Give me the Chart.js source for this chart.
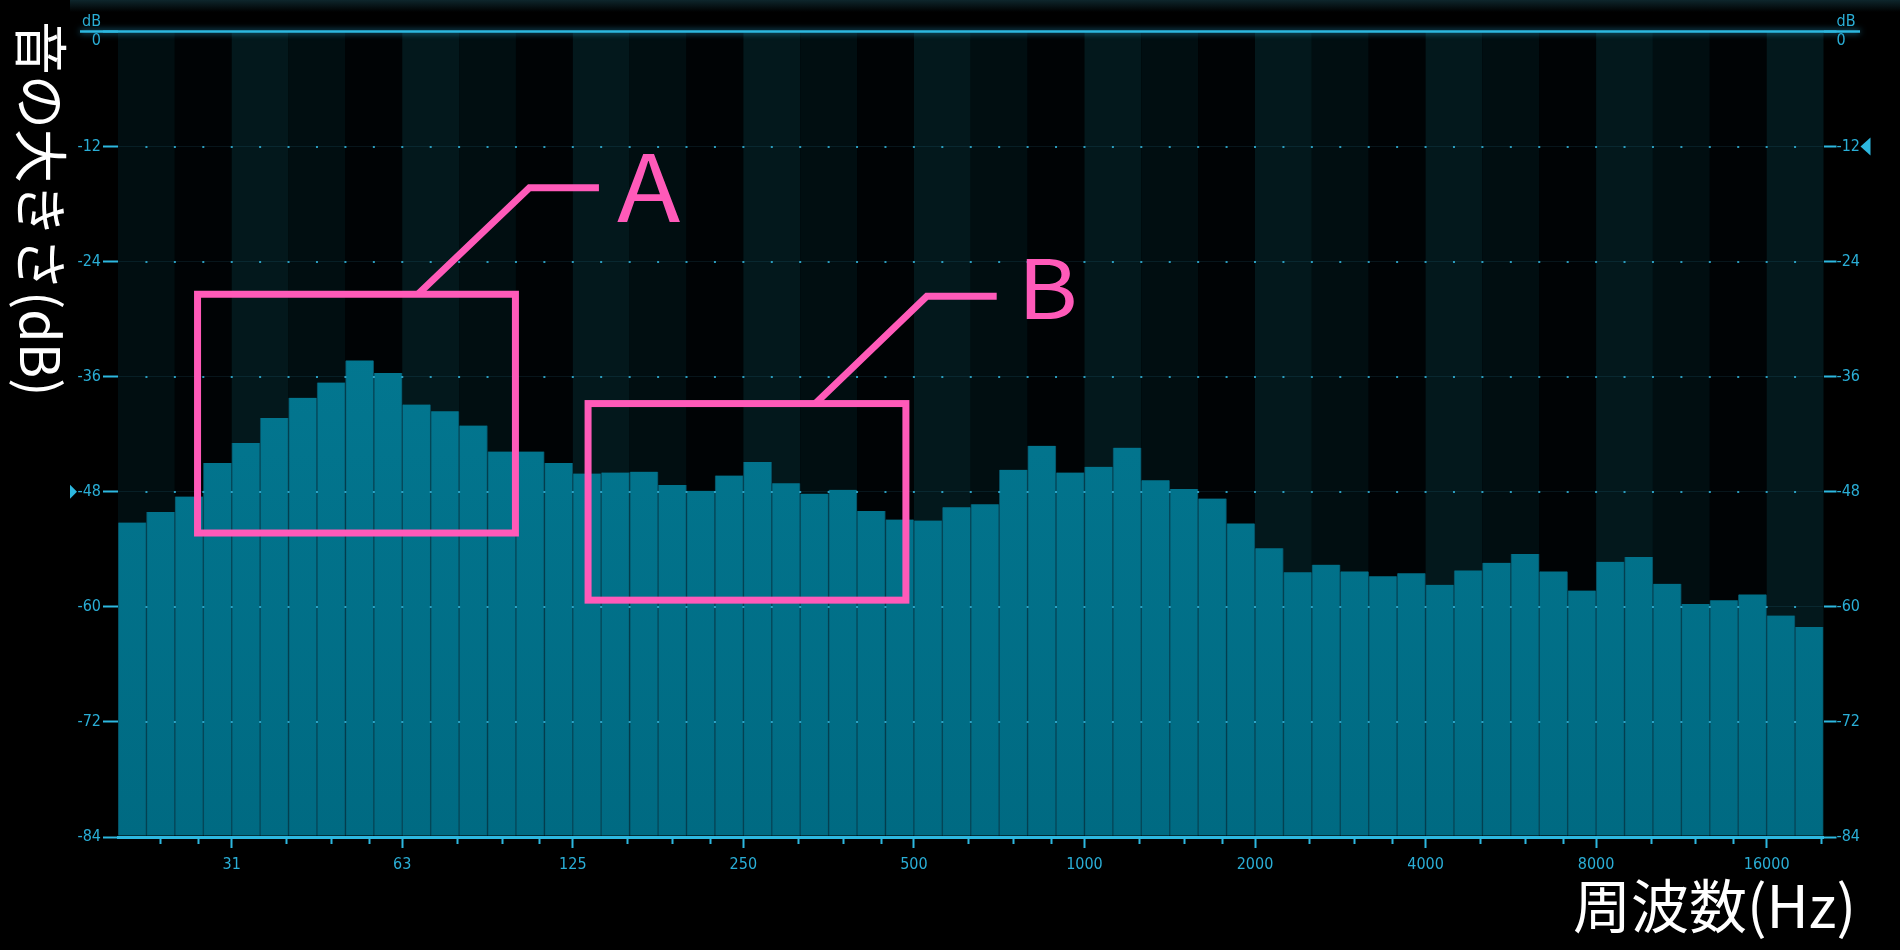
<!DOCTYPE html>
<html lang="ja">
<head>
<meta charset="utf-8">
<title>周波数特性</title>
<script src="https://cdn.jsdelivr.net/npm/chart.js@4.4.1/dist/chart.umd.min.js"></script>
<style>
  html, body { margin: 0; padding: 0; background: #000; }
  #wrap { width: 1900px; height: 950px; }
</style>
</head>
<body>
<div id="wrap"><canvas id="spectrum" width="1900" height="950"></canvas></div>
<script>
// 1/6オクターブ帯域の中心周波数 (Hz)
const bandFreqs = [
  20.86, 23.41, 26.28, 29.50, 33.11, 37.16, 41.71, 46.82, 52.56, 59.00,
  66.22, 74.33, 83.43, 93.65, 105.1, 118.0, 132.4, 148.6, 166.9, 187.3,
  210.2, 236.0, 264.9, 297.3, 333.7, 374.6, 420.4, 471.9, 529.7, 594.6,
  667.4, 749.2, 840.9, 943.9, 1059.5, 1189.2, 1334.8, 1498.3, 1681.8, 1887.7,
  2118.9, 2378.4, 2669.6, 2996.6, 3363.6, 3775.5, 4237.8, 4756.8, 5339.3, 5993.1,
  6727.2, 7551.0, 8475.6, 9513.6, 10678.7, 11986.3, 13454.1, 15101.9, 16951.3, 19027.2
];

// 各帯域の音の大きさ (dB)
const bandLevels = [
  -51.2, -50.1, -48.5, -45.0, -42.9, -40.3, -38.2, -36.6, -34.3, -35.6,
  -38.9, -39.6, -41.1, -43.8, -43.8, -45.0, -46.1, -46.0, -45.9, -47.3,
  -47.9, -46.3, -44.9, -47.1, -48.2, -47.8, -50.0, -50.9, -51.0, -49.6,
  -49.3, -45.7, -43.2, -46.0, -45.4, -43.4, -46.8, -47.7, -48.7, -51.3,
  -53.9, -56.4, -55.6, -56.3, -56.8, -56.5, -57.7, -56.2, -55.4, -54.5,
  -56.3, -58.3, -55.3, -54.8, -57.6, -59.7, -59.3, -58.7, -60.9, -62.1
];

// 横軸の目盛り（オクターブごと）
const octaveTicks  = [31.25, 62.5, 125, 250, 500, 1000, 2000, 4000, 8000, 16000];
const octaveLabels = ['31', '63', '125', '250', '500', '1000', '2000', '4000', '8000', '16000'];
const minorSteps   = [1.25, 1.5, 1.75];

// 縦軸
const DB_MIN = -84;
const DB_MAX = 0;
const DB_STEP = 12;

// 表示する周波数範囲（帯域の端）
const HZ_MIN = 19.686;
const HZ_MAX = 20158.7;

// レベルマーカー（左右の三角）
const leftMarkDb = -48;
const rightMarkDb = -12;

// 注目範囲 A / B（周波数と dB で指定）
const regions = [
  { label: 'A', fromHz: 27.2, toHz: 99,  topDb: -27.4, bottomDb: -52.3,
    leaderHz: [66.6, 104.8, 139], leaderDb: -16.3, textHz: 149.6, textDb: -19.85, size: 93 },
  { label: 'B', fromHz: 133,  toHz: 484, topDb: -38.8, bottomDb: -59.3,
    leaderHz: [335, 527, 700],    leaderDb: -27.6, textHz: 762,   textDb: -30.0,  size: 82 }
];

const CYAN_TEXT = '#2aaed6';
const CYAN_LINE = '#2db8e0';
const PINK = '#ff5ab9';
const NARROW = '"Liberation Sans Narrow", "DejaVu Sans Condensed", "Arial Narrow", sans-serif';
const JP = '"Noto Sans CJK JP", "Noto Sans", sans-serif';

const minorTicks = [];
[15.625, ...octaveTicks].forEach(f => minorSteps.forEach(s => {
  const v = f * s;
  if (v > HZ_MIN && v < HZ_MAX) minorTicks.push(v);
}));

// 背景：オクターブごとの縞
const backdrop = {
  id: 'backdrop',
  beforeDraw(chart) {
    const { ctx, chartArea: a, scales: { x } } = chart;
    ctx.save();
    ctx.fillStyle = '#000';
    ctx.fillRect(0, 0, chart.width, chart.height);

    const haze = ctx.createLinearGradient(0, 0, 0, 12);
    haze.addColorStop(0, 'rgba(14,38,44,1)');
    haze.addColorStop(1, 'rgba(0,0,0,1)');
    ctx.fillStyle = haze;
    ctx.fillRect(70, 0, chart.width - 70, 12);

    const shades = ['#03181c', '#010e11', '#000305'];
    [15.625, ...octaveTicks].forEach(f => {
      for (let s = 0; s < 3; s++) {
        const l = Math.max(a.left, x.getPixelForValue(f * Math.pow(2, s / 3)));
        const r = Math.min(a.right, x.getPixelForValue(f * Math.pow(2, (s + 1) / 3)));
        if (r <= l) continue;
        ctx.fillStyle = shades[s];
        ctx.fillRect(l, a.top, r - l, a.bottom - a.top);
      }
    });
    ctx.restore();
  }
};

// 点線グリッド（帯域の境目ごとに点）
const dotGrid = {
  id: 'dotGrid',
  afterDatasetsDraw(chart) {
    const { ctx, scales: { x, y } } = chart;
    ctx.save();
    ctx.fillStyle = 'rgba(48,172,208,0.9)';
    for (let v = DB_MIN + DB_STEP; v < DB_MAX; v += DB_STEP) {
      const py = Math.round(y.getPixelForValue(v));
      for (let i = 0; i < bandFreqs.length - 1; i++) {
        const px = (x.getPixelForValue(bandFreqs[i]) + x.getPixelForValue(bandFreqs[i + 1])) / 2;
        ctx.fillRect(px - 1, py - 1, 2, 2);
      }
    }
    ctx.restore();
  }
};

// 0dB ライン、マーカー、軸タイトル、注目範囲
const overlay = {
  id: 'overlay',
  afterDraw(chart) {
    const { ctx, chartArea: a, scales: { x, y } } = chart;
    ctx.save();

    const y0 = y.getPixelForValue(DB_MAX);
    ctx.strokeStyle = CYAN_LINE;
    ctx.lineWidth = 2.5;
    ctx.shadowColor = 'rgba(40,180,230,0.8)';
    ctx.shadowBlur = 6;
    ctx.beginPath();
    ctx.moveTo(80, y0);
    ctx.lineTo(1860, y0);
    ctx.stroke();
    ctx.shadowBlur = 0;

    ctx.fillStyle = CYAN_LINE;
    const yl = y.getPixelForValue(leftMarkDb);
    ctx.beginPath();
    ctx.moveTo(a.left - 48, yl - 7);
    ctx.lineTo(a.left - 41, yl);
    ctx.lineTo(a.left - 48, yl + 7);
    ctx.closePath();
    ctx.fill();
    const yr = y.getPixelForValue(rightMarkDb);
    ctx.beginPath();
    ctx.moveTo(a.right + 47, yr - 9);
    ctx.lineTo(a.right + 37, yr);
    ctx.lineTo(a.right + 47, yr + 9);
    ctx.closePath();
    ctx.fill();

    // 軸タイトル
    ctx.fillStyle = '#ffffff';
    ctx.font = '400 54px ' + JP;
    ctx.save();
    ctx.translate(41, 21);
    ctx.rotate(Math.PI / 2);
    ctx.textAlign = 'left';
    ctx.textBaseline = 'middle';
    ctx.fillText('音の大きさ(dB)', 0, 0);
    ctx.restore();

    ctx.font = '400 58px ' + JP;
    ctx.textAlign = 'right';
    ctx.textBaseline = 'alphabetic';
    ctx.fillText('周波数(Hz)', 1856, 928);

    // 注目範囲
    ctx.strokeStyle = PINK;
    ctx.fillStyle = PINK;
    ctx.lineWidth = 7;
    ctx.lineJoin = 'miter';
    ctx.textAlign = 'left';
    regions.forEach(r => {
      const l = x.getPixelForValue(r.fromHz);
      const rt = x.getPixelForValue(r.toHz);
      const t = y.getPixelForValue(r.topDb);
      const b = y.getPixelForValue(r.bottomDb);
      ctx.strokeRect(l, t, rt - l, b - t);
      const ly = y.getPixelForValue(r.leaderDb);
      ctx.beginPath();
      ctx.moveTo(x.getPixelForValue(r.leaderHz[0]), t);
      ctx.lineTo(x.getPixelForValue(r.leaderHz[1]), ly);
      ctx.lineTo(x.getPixelForValue(r.leaderHz[2]), ly);
      ctx.stroke();
      ctx.save();
      ctx.translate(x.getPixelForValue(r.textHz), y.getPixelForValue(r.textDb));
      ctx.scale(1.12, 1);
      ctx.font = '400 ' + r.size + 'px ' + JP;
      ctx.fillText(r.label, 0, 0);
      ctx.restore();
    });
    ctx.restore();
  }
};

const ctx = document.getElementById('spectrum').getContext('2d');

new Chart(ctx, {
  type: 'bar',
  data: {
    datasets: [{
      data: bandFreqs.map((f, i) => ({ x: f, y: bandLevels[i] })),
      base: DB_MIN,
      backgroundColor: c => {
        const area = c.chart.chartArea;
        if (!area) return '#02728a';
        const g = c.chart.ctx.createLinearGradient(0, area.top, 0, area.bottom);
        g.addColorStop(0, '#047f99');
        g.addColorStop(1, '#006a82');
        return g;
      },
      borderColor: '#05485a',
      borderWidth: { left: 1, right: 1, top: 0, bottom: 0 },
      borderSkipped: false,
      categoryPercentage: 1,
      barPercentage: 1
    }]
  },
  options: {
    responsive: false,
    animation: false,
    devicePixelRatio: 1,
    layout: { padding: { left: 78, right: 36.5, top: 31.5, bottom: 53 } },
    plugins: { legend: { display: false }, tooltip: { enabled: false } },
    scales: {
      xMinor: {
        type: 'logarithmic',
        position: 'bottom',
        weight: 0,
        min: HZ_MIN,
        max: HZ_MAX,
        offset: false,
        afterBuildTicks: s => { s.ticks = minorTicks.map(v => ({ value: v })); },
        afterFit: s => { s.height = 0; },
        grid: { offset: false, drawOnChartArea: false, drawTicks: true, tickLength: 7, tickWidth: 2, tickColor: CYAN_LINE },
        border: { display: false },
        ticks: { display: false }
      },
      x: {
        type: 'logarithmic',
        position: 'bottom',
        weight: 1,
        min: HZ_MIN,
        max: HZ_MAX,
        offset: false,
        afterBuildTicks: s => { s.ticks = octaveTicks.map(v => ({ value: v })); },
        afterFit: s => { s.height = 60; },
        grid: { offset: false, drawOnChartArea: false, drawTicks: true, tickLength: 11, tickWidth: 2, tickColor: CYAN_LINE },
        border: { display: true, color: CYAN_LINE, width: 3 },
        ticks: {
          autoSkip: false,
          maxRotation: 0,
          padding: 7,
          color: CYAN_TEXT,
          font: { family: NARROW, size: 16 },
          callback: (v, i) => octaveLabels[i]
        }
      },
      y: {
        type: 'linear',
        position: 'left',
        min: DB_MIN,
        max: DB_MAX,
        z: 1,
        afterFit: s => { s.width = 40; },
        grid: {
          color: c => c.tick.value === DB_MAX ? 'rgba(0,0,0,0)'
            : c.tick.value === DB_MIN ? CYAN_LINE : 'rgba(70,185,225,0.10)',
          lineWidth: c => c.tick.value === DB_MIN ? 3 : 1,
          tickLength: 15,
          tickWidth: 2,
          tickColor: CYAN_LINE
        },
        border: { display: false },
        ticks: {
          stepSize: DB_STEP,
          padding: 2,
          color: CYAN_TEXT,
          font: { family: NARROW, size: 16 },
          callback: v => v === DB_MAX ? ['dB', '0'] : String(v)
        }
      },
      y2: {
        type: 'linear',
        position: 'right',
        min: DB_MIN,
        max: DB_MAX,
        z: 1,
        afterFit: s => { s.width = 40; },
        grid: { drawOnChartArea: false, tickLength: 13, tickWidth: 2, tickColor: CYAN_LINE },
        border: { display: false },
        ticks: {
          stepSize: DB_STEP,
          padding: 0,
          color: CYAN_TEXT,
          font: { family: NARROW, size: 16 },
          callback: v => v === DB_MAX ? ['dB', '0'] : String(v)
        }
      }
    }
  },
  plugins: [backdrop, dotGrid, overlay]
});
</script>
</body>
</html>
